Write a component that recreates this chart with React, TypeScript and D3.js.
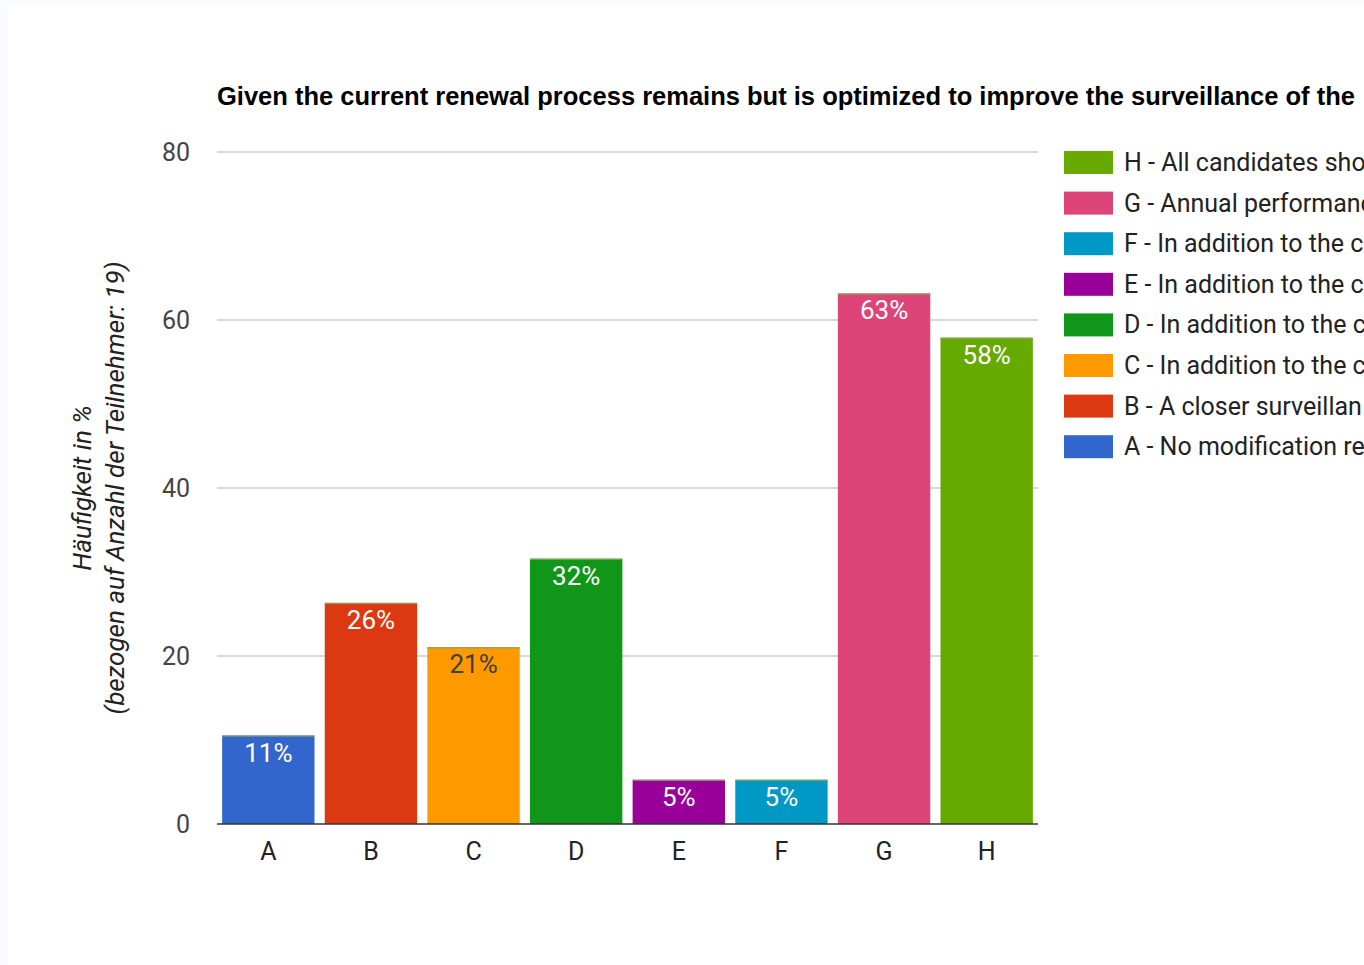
import * as d3 from "d3";
import React, { useEffect, useRef } from "react";

const categories = ["A", "B", "C", "D", "E", "F", "G", "H"];
const values = [10.53, 26.32, 21.05, 31.58, 5.26, 5.26, 63.16, 57.89];
const barLabels = ["11%", "26%", "21%", "32%", "5%", "5%", "63%", "58%"];
const colors = ["#3366cc", "#dc3912", "#ff9900", "#109618", "#990099", "#0099c6", "#dd4477", "#66aa00"];
const labelColors = ["#fff", "#fff", "#404040", "#fff", "#fff", "#fff", "#fff", "#fff"];
const legendLabels = [
  "A - No modification re",
  "B - A closer surveillan",
  "C - In addition to the c",
  "D - In addition to the c",
  "E - In addition to the c",
  "F - In addition to the c",
  "G - Annual performanc",
  "H - All candidates sho",
];
const yTicks = [0, 20, 40, 60, 80];
const title = "Given the current renewal process remains but is optimized to improve the surveillance of the";

export default function App() {
  const ref = useRef<SVGSVGElement>(null);

  useEffect(() => {
    const width = 1364, height = 965;
    const svg = d3.select(ref.current);
    svg.selectAll("*").remove();

    const x = d3.scaleBand<string>()
      .domain(categories)
      .range([217, 1038])
      .paddingInner(0.1)
      .paddingOuter(0.05);
    const y = d3.scaleLinear().domain([0, 80]).range([824, 152]);

    svg.append("rect").attr("width", width).attr("height", height).attr("fill", "#fff");
    svg.append("rect").attr("width", 8).attr("height", height).attr("fill", "#f7fbff");
    svg.append("rect").attr("width", width).attr("height", 6).attr("fill", "#fafcfc");

    // title
    svg.append("text")
      .attr("x", 217).attr("y", 105)
      .attr("font-family", "Arial, 'Liberation Sans', sans-serif")
      .attr("font-weight", "bold")
      .attr("font-size", 25.5)
      .attr("fill", "#000")
      .text(title);

    // gridlines
    svg.append("g").selectAll("line")
      .data(yTicks.filter(t => t !== 0))
      .join("line")
      .attr("x1", 217).attr("x2", 1038)
      .attr("y1", d => y(d)).attr("y2", d => y(d))
      .attr("stroke", "#cccccc").attr("stroke-width", 1.3);

    // y tick labels
    svg.append("g").selectAll("text")
      .data(yTicks)
      .join("text")
      .attr("x", 190).attr("y", d => y(d) + 9)
      .attr("text-anchor", "end")
      .attr("font-family", "Roboto, Arial, sans-serif")
      .attr("font-size", 25)
      .attr("fill", "#444")
      .text(d => d);

    // y axis title
    const yt = svg.append("text")
      .attr("transform", "translate(91,488) rotate(-90)")
      .attr("text-anchor", "middle")
      .attr("font-family", "Roboto, Arial, sans-serif")
      .attr("font-style", "italic")
      .attr("font-size", 26)
      .attr("fill", "#222");
    yt.append("tspan").attr("x", 0).attr("dy", 0).text("Häufigkeit in %");
    yt.append("tspan").attr("x", 0).attr("dy", 33).text("(bezogen auf Anzahl der Teilnehmer: 19)");

    // bars
    const g = svg.append("g");
    g.selectAll("rect.bar")
      .data(values)
      .join("rect")
      .attr("class", "bar")
      .attr("x", (_, i) => x(categories[i])!)
      .attr("width", x.bandwidth())
      .attr("y", d => y(d))
      .attr("height", d => y(0) - y(d))
      .attr("fill", (_, i) => colors[i]);

    g.selectAll("line.top")
      .data(values)
      .join("line")
      .attr("class", "top")
      .attr("x1", (_, i) => x(categories[i])!)
      .attr("x2", (_, i) => x(categories[i])! + x.bandwidth())
      .attr("y1", d => y(d) + 0.5).attr("y2", d => y(d) + 0.5)
      .attr("stroke", "#8aa660").attr("stroke-width", 1.5).attr("opacity", 0.8);

    g.selectAll("text.lbl")
      .data(values)
      .join("text")
      .attr("class", "lbl")
      .attr("x", (_, i) => x(categories[i])! + x.bandwidth() / 2)
      .attr("y", d => y(d) + 26)
      .attr("text-anchor", "middle")
      .attr("font-family", "Roboto, Arial, sans-serif")
      .attr("font-size", 26)
      .attr("fill", (_, i) => labelColors[i])
      .text((_, i) => barLabels[i]);

    // baseline
    svg.append("line")
      .attr("x1", 217).attr("x2", 1038)
      .attr("y1", y(0)).attr("y2", y(0))
      .attr("stroke", "#333").attr("stroke-width", 1.5);

    // x labels
    svg.append("g").selectAll("text")
      .data(categories)
      .join("text")
      .attr("x", d => x(d)! + x.bandwidth() / 2)
      .attr("y", 860)
      .attr("text-anchor", "middle")
      .attr("font-family", "Roboto, Arial, sans-serif")
      .attr("font-size", 25)
      .attr("fill", "#222")
      .text(d => d);

    // legend (reverse order, H at top)
    const legendOrder = d3.range(categories.length).reverse();
    const lg = svg.append("g").selectAll("g")
      .data(legendOrder)
      .join("g")
      .attr("transform", (_, j) => `translate(1064,${151 + j * 40.6})`);
    lg.append("rect")
      .attr("width", 49).attr("height", 23)
      .attr("fill", i => colors[i]);
    lg.append("text")
      .attr("x", 60).attr("y", 20)
      .attr("font-family", "Roboto, Arial, sans-serif")
      .attr("font-size", 25)
      .attr("fill", "#222")
      .text(i => legendLabels[i]);
  }, []);

  return (
    <svg ref={ref} width={1364} height={965} style={{ display: "block", position: "absolute", left: 0, top: 0 }} />
  );
}
